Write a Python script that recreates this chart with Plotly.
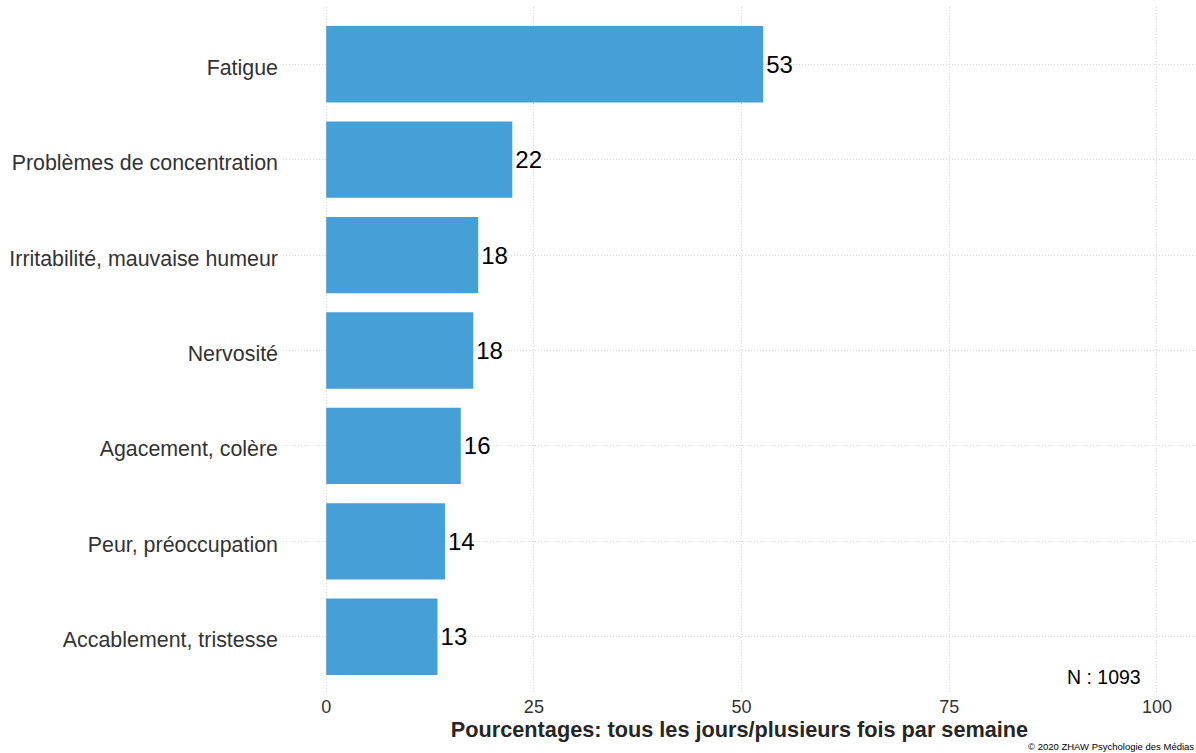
import plotly.graph_objects as go

# Symptom categories (top to bottom) and share reporting them daily / several times a week
categories = [
    "Fatigue",
    "Problèmes de concentration",
    "Irritabilité, mauvaise humeur",
    "Nervosité",
    "Agacement, colère",
    "Peur, préoccupation",
    "Accablement, tristesse",
]
values = [52.6, 22.4, 18.3, 17.7, 16.2, 14.3, 13.4]
x_ticks = [0, 25, 50, 75, 100]
sample_note = "N : 1093"
credit = "© 2020 ZHAW Psychologie des Médias"
x_title = "Pourcentages: tous les jours/plusieurs fois par semaine"

FONT = "Liberation Sans, Arial, sans-serif"
BAR = "#469fd6"
GRID = "#d6d6d6"

fig = go.Figure(
    go.Bar(
        x=values,
        y=categories,
        orientation="h",
        marker=dict(color=BAR, line=dict(width=0)),
        width=0.8,
        text=[f"{v:.0f}" for v in values],
        textposition="outside",
        textfont=dict(family=FONT, size=24, color="#000000"),
        cliponaxis=False,
        constraintext="none",
        hoverinfo="skip",
    )
)

T, B = 7, 59
PLOT_H = 753 - T - B

fig.update_layout(
    width=1196,
    height=753,
    margin=dict(l=283, r=0, t=T, b=B),
    paper_bgcolor="white",
    plot_bgcolor="white",
    showlegend=False,
    font=dict(family=FONT),
    xaxis=dict(
        range=[-5.2, 104.7],
        tickvals=x_ticks,
        ticktext=[str(t) for t in x_ticks],
        tickfont=dict(size=18, color="#333333"),
        showgrid=True,
        gridcolor=GRID,
        griddash="1px,2px",
        gridwidth=1,
        zeroline=False,
        showline=False,
        ticks="",
        title=dict(text=f"<b>{x_title}</b>", font=dict(size=21.7, color="#262626"), standoff=3),
    ),
    yaxis=dict(
        categoryorder="array",
        categoryarray=categories[::-1],
        range=[-0.6, 6.6],
        tickfont=dict(size=21.4, color="#333333"),
        showgrid=True,
        gridcolor=GRID,
        griddash="1px,2px",
        gridwidth=1,
        zeroline=False,
        showline=False,
        ticks="",
        ticklabelstandoff=4,
        ticklabelshift=3,
    ),
    annotations=[
        dict(
            text=sample_note,
            xref="paper", yref="paper",
            x=(1143 - 283) / (1196 - 283), y=(753 - B - 677) / PLOT_H,
            xanchor="right", yanchor="middle",
            showarrow=False,
            font=dict(family=FONT, size=19.5, color="#000000"),
        ),
        dict(
            text=credit,
            xref="paper", yref="paper",
            x=1.0, y=-(746 - (753 - B)) / PLOT_H,
            xanchor="right", yanchor="middle",
            showarrow=False,
            font=dict(family=FONT, size=9.5, color="#000000"),
        ),
    ],
)

fig.write_html("out.html")
